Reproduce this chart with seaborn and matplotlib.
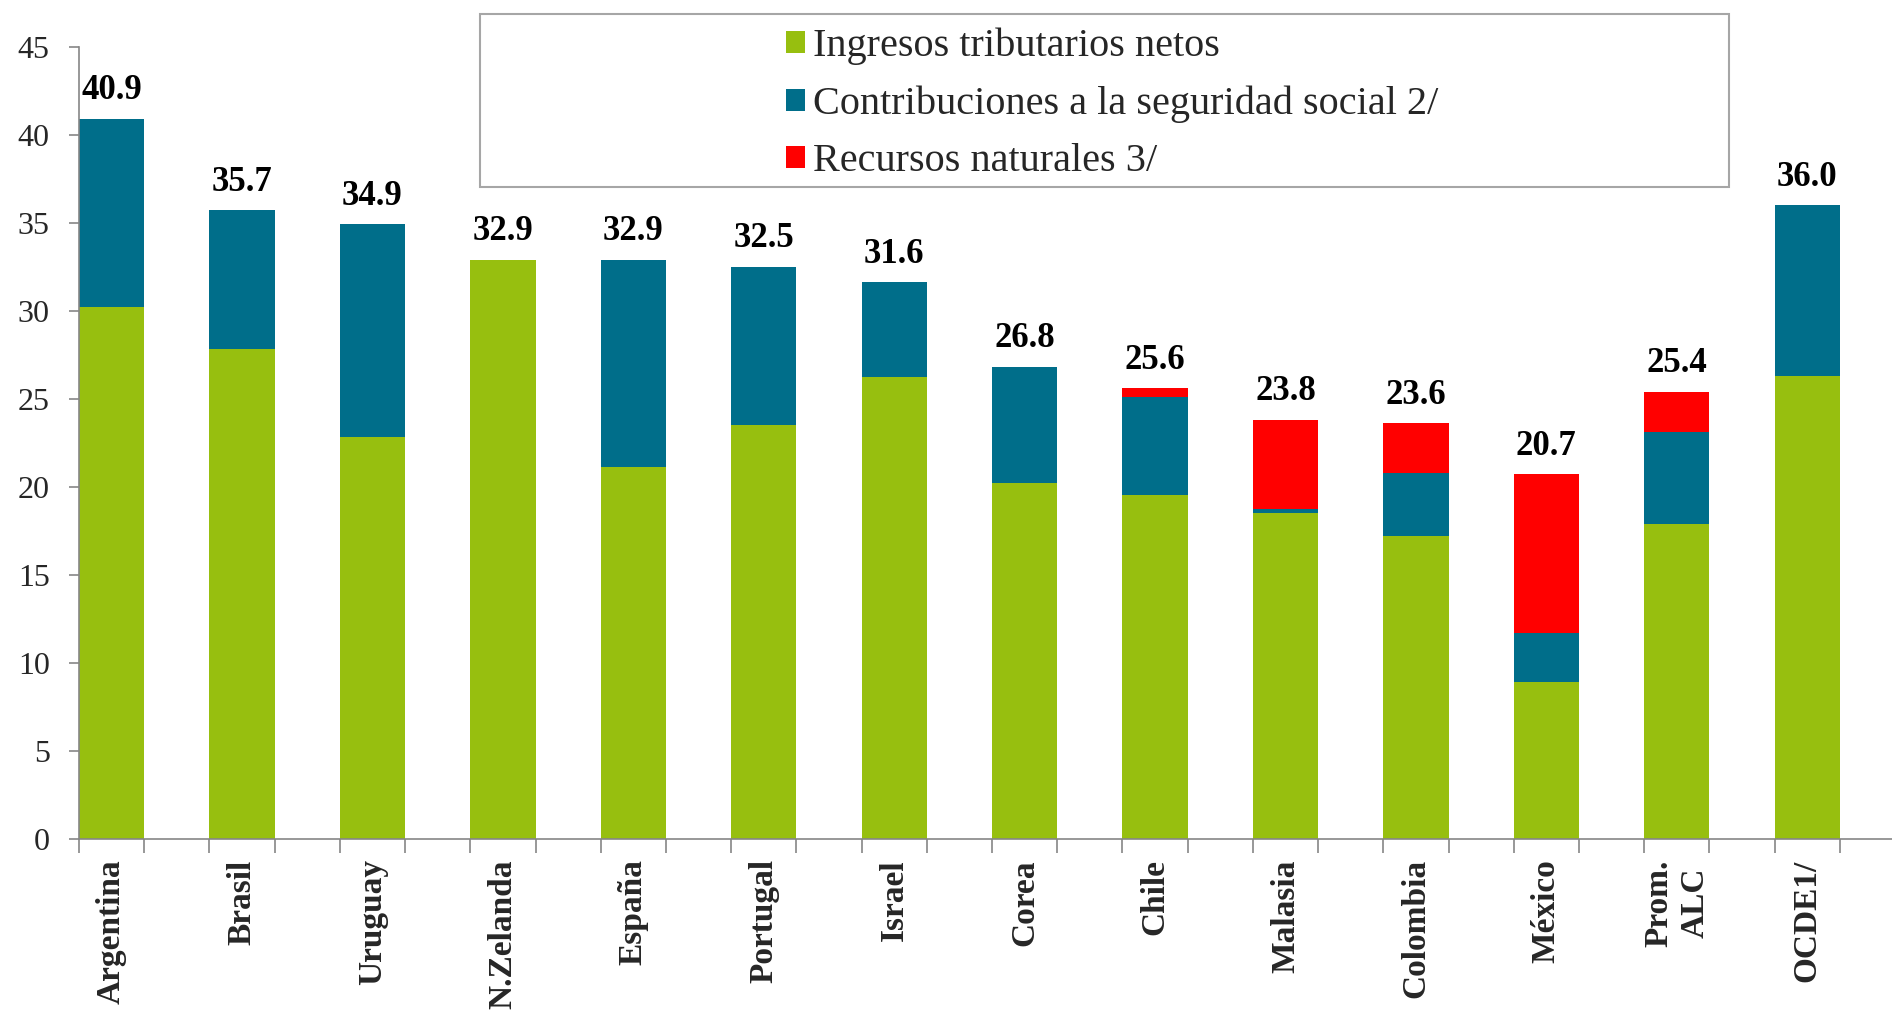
import matplotlib
matplotlib.use("Agg")
import matplotlib.pyplot as plt
from matplotlib.patches import Rectangle, Patch
import numpy as np
import pandas as pd
import seaborn as sns

# Categories and components (% of GDP)
paises = ["Argentina", "Brasil", "Uruguay", "N.Zelanda", "España", "Portugal",
          "Israel", "Corea", "Chile", "Malasia", "Colombia", "México",
          "Prom.\nALC", "OCDE1/"]
ingresos_tributarios = [30.2, 27.8, 22.8, 32.9, 21.1, 23.5, 26.2, 20.2, 19.5,
                        18.5, 17.2, 8.9, 17.9, 26.3]
seguridad_social = [10.7, 7.9, 12.1, 0.0, 11.8, 9.0, 5.4, 6.6, 5.6,
                    0.2, 3.6, 2.8, 5.2, 9.7]
recursos_naturales = [0.0, 0.0, 0.0, 0.0, 0.0, 0.0, 0.0, 0.0, 0.5,
                      5.1, 2.8, 9.0, 2.3, 0.0]
totales = [40.9, 35.7, 34.9, 32.9, 32.9, 32.5, 31.6, 26.8, 25.6,
           23.8, 23.6, 20.7, 25.4, 36.0]

serie_nombres = ["Ingresos tributarios netos",
                 "Contribuciones a la seguridad social 2/",
                 "Recursos naturales 3/"]
colores = ["#97bf0f", "#006e8a", "#ff0000"]

sns.set_theme(style="white")
plt.rcParams["font.family"] = ["Liberation Serif", "DejaVu Serif"]

df = pd.DataFrame({
    "pais": paises,
    "verde": ingresos_tributarios,
    "azul": seguridad_social,
    "rojo": recursos_naturales,
})
df["nivel2"] = df["verde"] + df["azul"]
df["nivel3"] = df["nivel2"] + df["rojo"]

W, H = 1892, 1013
fig = plt.figure(figsize=(W / 100, H / 100), dpi=100)
ax = fig.add_axes([79 / W, 1 - 838.5 / H, 1 - 79 / W, (838.5 - 46.7) / H])

# Stacked bars: draw cumulative heights from the top layer down
sns.barplot(data=df, x="pais", y="nivel3", color=colores[2], width=0.5,
            saturation=1, order=paises, ax=ax, linewidth=0)
sns.barplot(data=df, x="pais", y="nivel2", color=colores[1], width=0.5,
            saturation=1, order=paises, ax=ax, linewidth=0)
sns.barplot(data=df, x="pais", y="verde", color=colores[0], width=0.5,
            saturation=1, order=paises, ax=ax, linewidth=0)

# Total labels above each bar
for i, tot in enumerate(totales):
    ax.annotate(f"{tot:.1f}", xy=(i, tot), xytext=(0, 14),
                textcoords="offset points", ha="center", va="baseline",
                fontsize=25, fontweight="bold", color="black")

ax.set_xlim(-0.25, 13.65)
ax.set_ylim(0, 45)
ax.set_yticks(np.arange(0, 46, 5))
ax.set_xlabel("")
ax.set_ylabel("")

gris = "#868686"
for side in ["top", "right"]:
    ax.spines[side].set_visible(False)
for side in ["left", "bottom"]:
    ax.spines[side].set_color(gris)
    ax.spines[side].set_linewidth(1.2)

ax.tick_params(axis="y", which="major", direction="out", length=7,
               width=1.2, color=gris, pad=14, labelsize=23, left=True)
ax.set_xticks(range(len(paises)))
ax.set_xticklabels(paises, rotation=90, fontweight="bold", fontsize=24,
                   va="top", ha="center", multialignment="center")
ax.tick_params(axis="x", which="major", length=0, pad=15)
ax.set_xticks([i + d for i in range(len(paises)) for d in (-0.25, 0.25)],
              minor=True)
ax.tick_params(axis="x", which="minor", direction="out", length=10,
               width=1.2, color=gris, bottom=True)

# Legend with its own framed box
handles = [Patch(facecolor=c, edgecolor="none") for c in colores]
fig.legend(handles, serie_nombres, loc="center left",
           bbox_to_anchor=(786 / W, 1 - 104 / H), frameon=False,
           fontsize=29, handlelength=0.47, handleheight=0.47,
           handletextpad=0.21, labelspacing=0.5, borderpad=0,
           borderaxespad=0)
fig.patches.append(Rectangle((480 / W, 1 - 187 / H), (1729 - 480) / W,
                             (187 - 14.5) / H, transform=fig.transFigure,
                             facecolor="white", edgecolor="#a6a6a6",
                             linewidth=1.5, zorder=0))

fig.savefig("out.png", dpi=100, facecolor="white")
